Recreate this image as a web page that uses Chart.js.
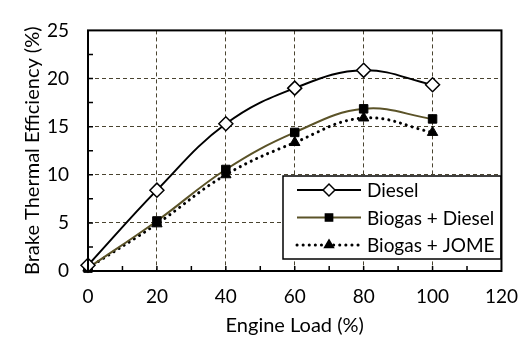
<!DOCTYPE html>
<html>
<head>
<meta charset="utf-8">
<script src="https://cdn.jsdelivr.net/npm/chart.js@4"></script>
<style>
  html, body { margin: 0; padding: 0; background: #fff; }
  #wrap { width: 532px; height: 338px; }
</style>
</head>
<body>
<div id="wrap"><canvas id="btChart" width="532" height="338"></canvas></div>
<script>
// Engine load (%) and brake thermal efficiency (%)
const loads = [0, 20, 40, 60, 80, 100];
const diesel = [0.6, 8.4, 15.3, 19.0, 20.85, 19.35];
const biogasDiesel = [0.3, 5.2, 10.55, 14.4, 16.85, 15.8];
const biogasJome = [0.3, 4.9, 10.0, 13.35, 15.9, 14.4];
const seriesNames = ['Diesel', 'Biogas + Diesel', 'Biogas + JOME'];
const xTicks = [0, 20, 40, 60, 80, 100, 120];
const yTicks = [0, 5, 10, 15, 20, 25];

const FONT = 'Lato';
const gridColor = '#4a4430';
const oliveLine = '#5b5328';

const toPoints = vals => loads.map((x, i) => ({ x: x, y: vals[i] }));

// box, inward ticks and legend drawn on top of the plot
const framePlugin = {
    id: 'frame',
    afterDatasetsDraw(chart) {
        const ctx = chart.ctx;
        const a = chart.chartArea;
        const xs = chart.scales.x, ys = chart.scales.y;
        ctx.save();
        ctx.strokeStyle = '#000';
        ctx.lineWidth = 1.5;
        ctx.beginPath();
        for (let v = 10; v < 120; v += 10) {
            const px = xs.getPixelForValue(v);
            ctx.moveTo(px, a.bottom);
            ctx.lineTo(px, a.bottom - 5);
        }
        for (let v = 2.5; v < 25; v += 2.5) {
            const py = ys.getPixelForValue(v);
            ctx.moveTo(a.left, py);
            ctx.lineTo(a.left + 5, py);
        }
        ctx.stroke();

        // legend
        const lx = 283, ly = 176, lw = 218, lh = 83;
        ctx.fillStyle = '#fff';
        ctx.fillRect(lx, ly, lw, lh);
        ctx.lineWidth = 1.5;
        ctx.strokeRect(lx, ly, lw, lh);
        const rows = [190, 217.5, 245];
        chart.data.datasets.forEach((ds, i) => {
            const y = rows[i];
            ctx.save();
            ctx.strokeStyle = ds.borderColor;
            ctx.lineWidth = ds.borderWidth;
            ctx.setLineDash(ds.borderDash || []);
            ctx.lineCap = ds.borderCapStyle || 'butt';
            ctx.beginPath();
            ctx.moveTo(297, y);
            ctx.lineTo(361, y);
            ctx.stroke();
            ctx.restore();
            Chart.helpers.drawPoint(ctx, {
                pointStyle: ds.pointStyle,
                radius: ds.pointRadius * 0.85,
                borderWidth: ds.pointBorderWidth,
                rotation: ds.pointRotation || 0
            }, 329, y);
            ctx.fillStyle = '#000';
            ctx.font = '19px ' + FONT;
            ctx.textBaseline = 'middle';
            ctx.fillText(ds.label, 367, y + 1);
        });

        ctx.strokeStyle = '#000';
        ctx.lineWidth = 2;
        ctx.strokeRect(a.left, a.top, a.right - a.left, a.bottom - a.top);
        ctx.restore();
    }
};

const ctx = document.getElementById('btChart').getContext('2d');
new Chart(ctx, {
    type: 'line',
    data: {
        datasets: [{
            label: seriesNames[0],
            data: toPoints(diesel),
            borderColor: '#000',
            borderWidth: 2,
            pointStyle: 'rectRot',
            pointRadius: 7,
            pointBackgroundColor: '#fff',
            pointBorderColor: '#000',
            pointBorderWidth: 1.5,
            tension: 0.4
        }, {
            label: seriesNames[1],
            data: toPoints(biogasDiesel),
            borderColor: oliveLine,
            borderWidth: 2,
            pointStyle: 'rect',
            pointRadius: 6,
            pointBackgroundColor: '#000',
            pointBorderColor: '#000',
            pointBorderWidth: 1,
            tension: 0.4
        }, {
            label: seriesNames[2],
            data: toPoints(biogasJome),
            borderColor: '#000',
            borderWidth: 3,
            borderDash: [0.1, 6],
            borderCapStyle: 'round',
            pointStyle: 'triangle',
            pointRadius: 6,
            pointBackgroundColor: '#000',
            pointBorderColor: '#000',
            pointBorderWidth: 1,
            tension: 0.4
        }]
    },
    options: {
        responsive: false,
        animation: false,
        clip: false,
        layout: { padding: { top: 21, right: 21, left: 21, bottom: 0 } },
        plugins: {
            legend: { display: false },
            tooltip: { enabled: false }
        },
        scales: {
            x: {
                type: 'linear',
                min: 0,
                max: 120,
                afterBuildTicks: s => { s.ticks = xTicks.map(v => ({ value: v })); },
                afterFit: s => { s.height = 67; },
                grid: { color: gridColor, lineWidth: 1, drawTicks: false },
                border: { display: false, dash: [4, 3] },
                ticks: { color: '#000', padding: 14, font: { family: FONT, size: 19 } },
                title: {
                    display: true,
                    text: 'Engine Load (%)',
                    color: '#000',
                    padding: { top: 0, bottom: 0 },
                    font: { family: FONT, size: 20 }
                }
            },
            y: {
                min: 0,
                max: 25,
                afterBuildTicks: s => { s.ticks = yTicks.map(v => ({ value: v })); },
                afterFit: s => { s.width = 67; },
                grid: { color: gridColor, lineWidth: 1, drawTicks: false },
                border: { display: false, dash: [4, 3] },
                ticks: { color: '#000', padding: 19, font: { family: FONT, size: 19 } },
                title: {
                    display: true,
                    text: 'Brake Thermal Efficiency (%)',
                    color: '#000',
                    padding: { top: 0, bottom: 0 },
                    font: { family: FONT, size: 20 }
                }
            }
        }
    },
    plugins: [framePlugin]
});
</script>
</body>
</html>
